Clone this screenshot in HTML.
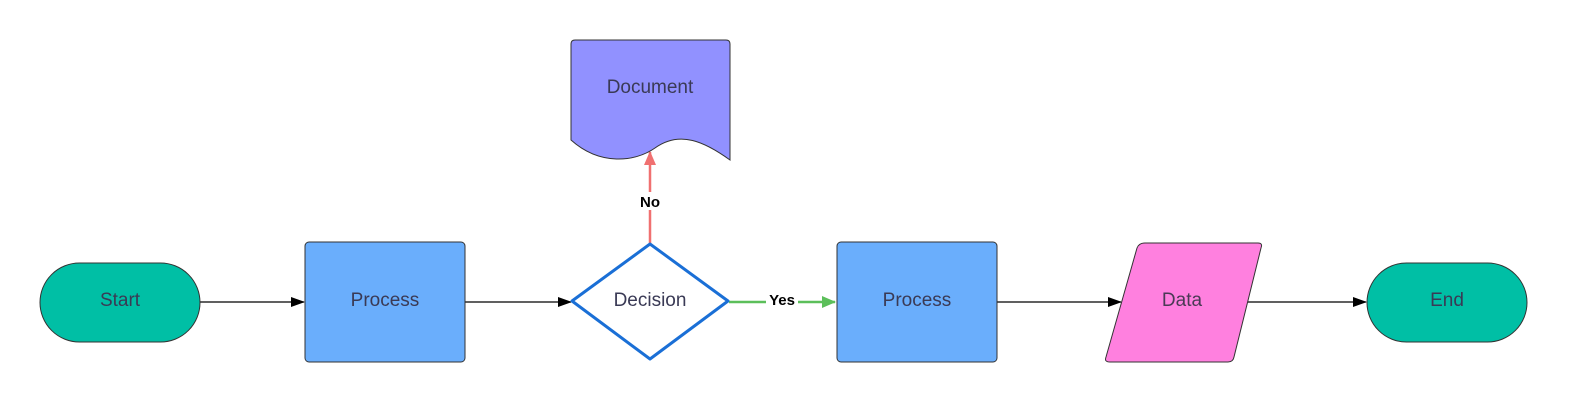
<!DOCTYPE html>
<html><head><style>
html,body{margin:0;padding:0;background:#fff;}
svg{display:block}
text{font-family:"Liberation Sans",sans-serif;}
</style></head><body>
<svg width="1572" height="403" viewBox="0 0 1572 403" xmlns="http://www.w3.org/2000/svg">
<defs>
<marker id="ab" markerWidth="14" markerHeight="10" refX="13" refY="5" orient="auto" markerUnits="userSpaceOnUse"><path d="M0,0 L14,5 L0,10 z" fill="#000"/></marker>
<marker id="ag" markerWidth="14" markerHeight="12" refX="13" refY="6" orient="auto" markerUnits="userSpaceOnUse"><path d="M0,0 L14,6 L0,12 z" fill="#5cbf5a"/></marker>
<marker id="ar" markerWidth="14" markerHeight="12" refX="13" refY="6" orient="auto" markerUnits="userSpaceOnUse"><path d="M0,0 L14,6 L0,12 z" fill="#f07070"/></marker>
</defs>
<line x1="200" y1="302" x2="304" y2="302" stroke="#000" stroke-width="1.3" marker-end="url(#ab)"/>
<line x1="465" y1="302" x2="571" y2="302" stroke="#000" stroke-width="1.3" marker-end="url(#ab)"/>
<line x1="729" y1="302" x2="835" y2="302" stroke="#5cbf5a" stroke-width="2.5" marker-end="url(#ag)"/>
<line x1="650" y1="243" x2="650" y2="152" stroke="#f07070" stroke-width="2.5" marker-end="url(#ar)"/>
<line x1="997" y1="302" x2="1121" y2="302" stroke="#000" stroke-width="1.3" marker-end="url(#ab)"/>
<line x1="1247" y1="302" x2="1366" y2="302" stroke="#000" stroke-width="1.3" marker-end="url(#ab)"/>
<rect x="766" y="292" width="32" height="16" fill="#fff"/>
<text x="782" y="305" font-size="15" font-weight="bold" text-anchor="middle" fill="#000">Yes</text>
<rect x="636" y="192" width="28" height="18" fill="#fff"/>
<text x="650" y="207" font-size="15" font-weight="bold" text-anchor="middle" fill="#000">No</text>
<rect x="40" y="263" width="160" height="79" rx="39.5" fill="#00bfa5" stroke="#333" stroke-width="1"/>
<text x="120" y="306" font-size="19" text-anchor="middle" fill="#3a3a55">Start</text>
<rect x="305" y="242" width="160" height="120" rx="4" fill="#6aaefc" stroke="#333" stroke-width="1"/>
<text x="385" y="306" font-size="19" text-anchor="middle" fill="#3a3a55">Process</text>
<path d="M650,244 L728,301 L650,359 L572,301 Z" fill="#fff" stroke="#1a6fd6" stroke-width="3" stroke-linejoin="round"/>
<text x="650" y="306" font-size="19" text-anchor="middle" fill="#3a3a55">Decision</text>
<path d="M575,40 H726 Q730,40 730,44 V160 C705,142 680,130 655,148 C635,162 600,166 571,140 V44 Q571,40 575,40 Z" fill="#9191ff" stroke="#333" stroke-width="1"/>
<text x="650" y="93" font-size="19" text-anchor="middle" fill="#3a3a55">Document</text>
<rect x="837" y="242" width="160" height="120" rx="4" fill="#6aaefc" stroke="#333" stroke-width="1"/>
<text x="917" y="306" font-size="19" text-anchor="middle" fill="#3a3a55">Process</text>
<path d="M1145,243 H1258 Q1263,243 1261,248 L1234,357 Q1233,362 1228,362 H1110 Q1104,362 1106,357 L1137,248 Q1139,243 1145,243 Z" fill="#ff80df" stroke="#333" stroke-width="1"/>
<text x="1182" y="306" font-size="19" text-anchor="middle" fill="#4a3a55">Data</text>
<rect x="1367" y="263" width="160" height="79" rx="39.5" fill="#00bfa5" stroke="#333" stroke-width="1"/>
<text x="1447" y="306" font-size="19" text-anchor="middle" fill="#3a3a55">End</text>
</svg>
</body></html>
